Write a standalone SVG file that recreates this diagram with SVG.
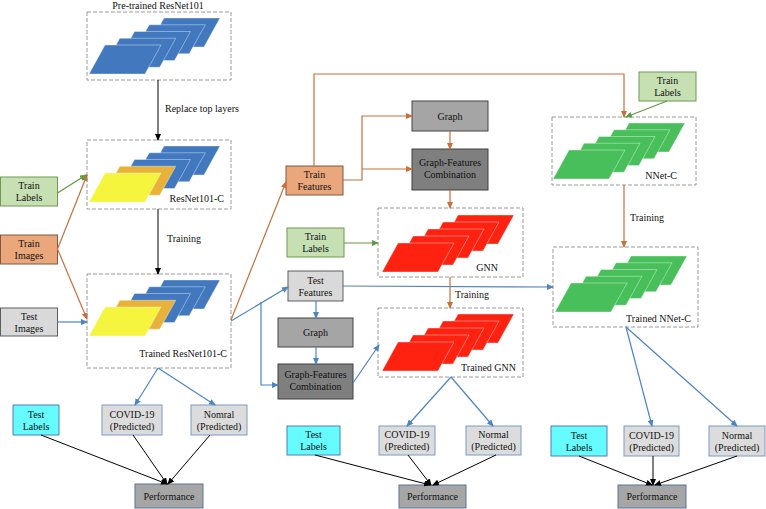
<svg xmlns="http://www.w3.org/2000/svg" width="766" height="509" viewBox="0 0 766 509" font-family="Liberation Serif, Times New Roman, serif">
<style>
text{font-family:'Liberation Serif','Times New Roman',Times,serif;font-size:10px;fill:#111}
.c{text-anchor:middle}
.r{text-anchor:end}
.dash{fill:#fff;stroke:#808080;stroke-width:0.8;stroke-dasharray:4 2}
.tl{fill:#c6e0b4;stroke:#6f9a50;stroke-width:1}
.ti{fill:#eaa77c;stroke:#7d5a40;stroke-width:1}
.gi{fill:#d9d9d9;stroke:#5e5e5e;stroke-width:1}
.gr{fill:#a5a5a5;stroke:#454545;stroke-width:1}
.gf{fill:#7f7f7f;stroke:#404040;stroke-width:1}
.cy{fill:#66fbff;stroke:#4f7fb5;stroke-width:1}
.pr{fill:#dcdcdc;stroke:#7a9cc4;stroke-width:1}
.pf{fill:#a6a6a6;stroke:#5b7597;stroke-width:1}
.lb{fill:#4279be}.lo{fill:#e8b23a}.ly{fill:#f4f53c}.lr{fill:#ff2211}.lg{fill:#48bf5a}
.lay{stroke:#ffffff;stroke-opacity:0.55;stroke-width:0.7}
.k{fill:none;stroke:#000;stroke-width:1}
.o{fill:none;stroke:#c4713c;stroke-width:1.2}
.b{fill:none;stroke:#4d84c4;stroke-width:1.2}
.g{fill:none;stroke:#5f9a44;stroke-width:1.2}
</style>
<defs>
<path id="layer" d="M16,0 L72,0 L56,29 L0,29 Z"/>
<marker id="ak" markerWidth="7" markerHeight="6" refX="6" refY="3" orient="auto" markerUnits="userSpaceOnUse"><path d="M0,0 L7,3 L0,6 Z" fill="#000"/></marker>
<marker id="ao" markerWidth="7" markerHeight="6" refX="6" refY="3" orient="auto" markerUnits="userSpaceOnUse"><path d="M0,0 L7,3 L0,6 Z" fill="#c4713c"/></marker>
<marker id="ab" markerWidth="7" markerHeight="6" refX="6" refY="3" orient="auto" markerUnits="userSpaceOnUse"><path d="M0,0 L7,3 L0,6 Z" fill="#4d84c4"/></marker>
<marker id="ag" markerWidth="7" markerHeight="6" refX="6" refY="3" orient="auto" markerUnits="userSpaceOnUse"><path d="M0,0 L7,3 L0,6 Z" fill="#5f9a44"/></marker>
</defs>

<!-- Model containers -->
<g id="pretrained">
<rect class="dash" x="87" y="12" width="144" height="68"/>
<text class="c" x="158" y="9">Pre-trained ResNet101</text>
<g class="lay">
<use href="#layer" class="lb" x="148" y="18"/>
<use href="#layer" class="lb" x="133.25" y="24.75"/>
<use href="#layer" class="lb" x="118.5" y="31.5"/>
<use href="#layer" class="lb" x="103.75" y="38.25"/>
<use href="#layer" class="lb" x="89" y="45"/>
</g>
</g>

<g id="resnet101c">
<rect class="dash" x="87" y="140" width="144" height="69"/>
<g class="lay">
<use href="#layer" class="lb" x="148" y="146"/>
<use href="#layer" class="lb" x="133.25" y="152.75"/>
<use href="#layer" class="lb" x="118.5" y="159.5"/>
<use href="#layer" class="lo" x="103.75" y="166.25"/>
<use href="#layer" class="ly" x="89" y="173"/>
</g>
<text class="r" x="224" y="202">ResNet101-C</text>
</g>

<g id="trained-resnet">
<rect class="dash" x="87" y="274" width="144" height="94"/>
<g class="lay">
<use href="#layer" class="lb" x="148" y="280"/>
<use href="#layer" class="lb" x="133.25" y="286.75"/>
<use href="#layer" class="lb" x="118.5" y="293.5"/>
<use href="#layer" class="lo" x="103.75" y="300.25"/>
<use href="#layer" class="ly" x="89" y="307"/>
</g>
<text class="r" x="227" y="357">Trained ResNet101-C</text>
</g>

<g id="gnn">
<rect class="dash" x="378" y="208" width="145" height="69"/>
<g class="lay">
<use href="#layer" class="lr" x="442" y="215"/>
<use href="#layer" class="lr" x="427" y="222"/>
<use href="#layer" class="lr" x="412" y="229"/>
<use href="#layer" class="lr" x="397" y="236"/>
<use href="#layer" class="lr" x="382" y="243"/>
</g>
<text class="r" x="498" y="271">GNN</text>
</g>

<g id="trained-gnn">
<rect class="dash" x="378" y="308" width="145" height="69"/>
<g class="lay">
<use href="#layer" class="lr" x="442" y="314"/>
<use href="#layer" class="lr" x="427" y="321"/>
<use href="#layer" class="lr" x="412" y="328"/>
<use href="#layer" class="lr" x="397" y="335"/>
<use href="#layer" class="lr" x="382" y="342"/>
</g>
<text class="r" x="516" y="371">Trained GNN</text>
</g>

<g id="nnetc">
<rect class="dash" x="552" y="117" width="144" height="68"/>
<g class="lay">
<use href="#layer" class="lg" x="613" y="123"/>
<use href="#layer" class="lg" x="598" y="129.75"/>
<use href="#layer" class="lg" x="583" y="136.5"/>
<use href="#layer" class="lg" x="568" y="143.25"/>
<use href="#layer" class="lg" x="553" y="150"/>
</g>
<text class="r" x="677" y="179">NNet-C</text>
</g>

<g id="trained-nnetc">
<rect class="dash" x="553" y="247" width="145" height="80"/>
<g class="lay">
<use href="#layer" class="lg" x="615" y="256"/>
<use href="#layer" class="lg" x="600" y="262.75"/>
<use href="#layer" class="lg" x="585" y="269.5"/>
<use href="#layer" class="lg" x="570" y="276.25"/>
<use href="#layer" class="lg" x="555" y="283"/>
</g>
<text class="r" x="691" y="322">Trained NNet-C</text>
</g>

<!-- Input / data nodes -->
<g id="train-labels-1"><rect class="tl" x="0.5" y="177" width="57" height="29"/><text class="c" x="29" y="189">Train</text><text class="c" x="29" y="201">Labels</text></g>
<g id="train-images"><rect class="ti" x="0.5" y="235" width="57" height="29"/><text class="c" x="29" y="247">Train</text><text class="c" x="29" y="259">Images</text></g>
<g id="test-images"><rect class="gi" x="0.5" y="308" width="57" height="28"/><text class="c" x="29" y="319.5">Test</text><text class="c" x="29" y="331.5">Images</text></g>

<g id="train-features"><rect class="ti" x="286" y="166" width="57" height="29"/><text class="c" x="314.5" y="178">Train</text><text class="c" x="314.5" y="190">Features</text></g>
<g id="graph-1"><rect class="gr" x="412" y="101" width="76" height="30"/><text class="c" x="450" y="119.5">Graph</text></g>
<g id="gfc-1"><rect class="gf" x="412" y="149" width="76" height="41"/><text class="c" x="450" y="166">Graph-Features</text><text class="c" x="450" y="178">Combination</text></g>
<g id="train-labels-2"><rect class="tl" x="287" y="228" width="57" height="29"/><text class="c" x="315.5" y="240">Train</text><text class="c" x="315.5" y="252">Labels</text></g>
<g id="test-features"><rect class="gi" x="288" y="271" width="55" height="30"/><text class="c" x="315.5" y="283.5">Test</text><text class="c" x="315.5" y="295.5">Features</text></g>
<g id="graph-2"><rect class="gr" x="278" y="318" width="75" height="29"/><text class="c" x="315.5" y="336">Graph</text></g>
<g id="gfc-2"><rect class="gf" x="278" y="364" width="75" height="35"/><text class="c" x="315.5" y="378">Graph-Features</text><text class="c" x="315.5" y="390">Combination</text></g>
<g id="train-labels-3"><rect class="tl" x="639" y="72" width="57" height="29"/><text class="c" x="667.5" y="84">Train</text><text class="c" x="667.5" y="96">Labels</text></g>

<!-- Output nodes -->
<g id="test-labels-1"><rect class="cy" x="13" y="405" width="46" height="30"/><text class="c" x="36" y="417.5">Test</text><text class="c" x="36" y="429.5">Labels</text></g>
<g id="covid-1"><rect class="pr" x="102" y="405" width="60" height="30"/><text class="c" x="132" y="417.5">COVID-19</text><text class="c" x="132" y="429.5">(Predicted)</text></g>
<g id="normal-1"><rect class="pr" x="191" y="405" width="56" height="30"/><text class="c" x="219" y="417.5">Nomral</text><text class="c" x="219" y="429.5">(Predicted)</text></g>
<g id="performance-1"><rect class="pf" x="135" y="484" width="68" height="24"/><text class="c" x="169" y="499.5">Performance</text></g>

<g id="test-labels-2"><rect class="cy" x="287" y="426" width="53" height="29"/><text class="c" x="313.5" y="438">Test</text><text class="c" x="313.5" y="450">Labels</text></g>
<g id="covid-2"><rect class="pr" x="379" y="426" width="56" height="29"/><text class="c" x="407" y="438">COVID-19</text><text class="c" x="407" y="450">(Predicted)</text></g>
<g id="normal-2"><rect class="pr" x="466" y="426" width="55" height="29"/><text class="c" x="493.5" y="438">Normal</text><text class="c" x="493.5" y="450">(Predicted)</text></g>
<g id="performance-2"><rect class="pf" x="399" y="485" width="67" height="23"/><text class="c" x="432.5" y="500">Performance</text></g>

<g id="test-labels-3"><rect class="cy" x="551" y="426" width="56" height="30"/><text class="c" x="579" y="438.5">Test</text><text class="c" x="579" y="450.5">Labels</text></g>
<g id="covid-3"><rect class="pr" x="624" y="426" width="55" height="30"/><text class="c" x="651.5" y="438.5">COVID-19</text><text class="c" x="651.5" y="450.5">(Predicted)</text></g>
<g id="normal-3"><rect class="pr" x="709" y="426" width="56" height="30"/><text class="c" x="737" y="438.5">Normal</text><text class="c" x="737" y="450.5">(Predicted)</text></g>
<g id="performance-3"><rect class="pf" x="618" y="485" width="68" height="23"/><text class="c" x="652" y="500">Performance</text></g>

<!-- Connectors -->
<g id="connectors">
<path class="k" d="M158,80 V140" marker-end="url(#ak)"/>
<path class="k" d="M158,209 V274" marker-end="url(#ak)"/>
<path class="k" d="M41,435 L167,484" marker-end="url(#ak)"/>
<path class="k" d="M133,435 L167,484" marker-end="url(#ak)"/>
<path class="k" d="M210,435 L168,484" marker-end="url(#ak)"/>
<path class="k" d="M315,455 L430,485" marker-end="url(#ak)"/>
<path class="k" d="M408,455 L431,485" marker-end="url(#ak)"/>
<path class="k" d="M496,455 L433,485" marker-end="url(#ak)"/>
<path class="k" d="M579,456 L652,485" marker-end="url(#ak)"/>
<path class="k" d="M653,456 V485" marker-end="url(#ak)"/>
<path class="k" d="M737,456 L655,485" marker-end="url(#ak)"/>

<path class="o" d="M57.5,249 L87,175" marker-end="url(#ao)"/>
<path class="o" d="M57.5,249 L87,319" marker-end="url(#ao)"/>
<path class="o" d="M231,320 L286,182" marker-end="url(#ao)"/>
<path class="o" d="M314,166 V74 H624 V117" marker-end="url(#ao)"/>
<path class="o" d="M343,180 H362 V116 H412" marker-end="url(#ao)"/>
<path class="o" d="M362,169 H412" marker-end="url(#ao)"/>
<path class="o" d="M450,131 V149" marker-end="url(#ao)"/>
<path class="o" d="M450,190 V208" marker-end="url(#ao)"/>
<path class="o" d="M450,277 V308" marker-end="url(#ao)"/>
<path class="o" d="M624,185 V247" marker-end="url(#ao)"/>

<path class="g" d="M57.5,193 L86,175" marker-end="url(#ag)"/>
<path class="g" d="M344,243 H378" marker-end="url(#ag)"/>
<path class="g" d="M667,101 L626,117" marker-end="url(#ag)"/>

<path class="b" d="M57.5,322 H87" marker-end="url(#ab)"/>
<path class="b" d="M158,368 L135,405" marker-end="url(#ab)"/>
<path class="b" d="M158,368 L215,405" marker-end="url(#ab)"/>
<path class="b" d="M231,321 L288,287" marker-end="url(#ab)"/>
<path class="b" d="M261,302 V385 H278" marker-end="url(#ab)"/>
<path class="b" d="M316,301 V318" marker-end="url(#ab)"/>
<path class="b" d="M316,347 V364" marker-end="url(#ab)"/>
<path class="b" d="M353,383 L379,345" marker-end="url(#ab)"/>
<path class="b" d="M343,286 L553,287" marker-end="url(#ab)"/>
<path class="b" d="M451,377 L407,426" marker-end="url(#ab)"/>
<path class="b" d="M451,377 L493,426" marker-end="url(#ab)"/>
<path class="b" d="M626,327 L652,426" marker-end="url(#ab)"/>
<path class="b" d="M626,327 L737,426" marker-end="url(#ab)"/>

<text x="165" y="112">Replace top layers</text>
<text x="167" y="242">Training</text>
<text x="455" y="298">Training</text>
<text x="630" y="221">Training</text>
</g>
</svg>
